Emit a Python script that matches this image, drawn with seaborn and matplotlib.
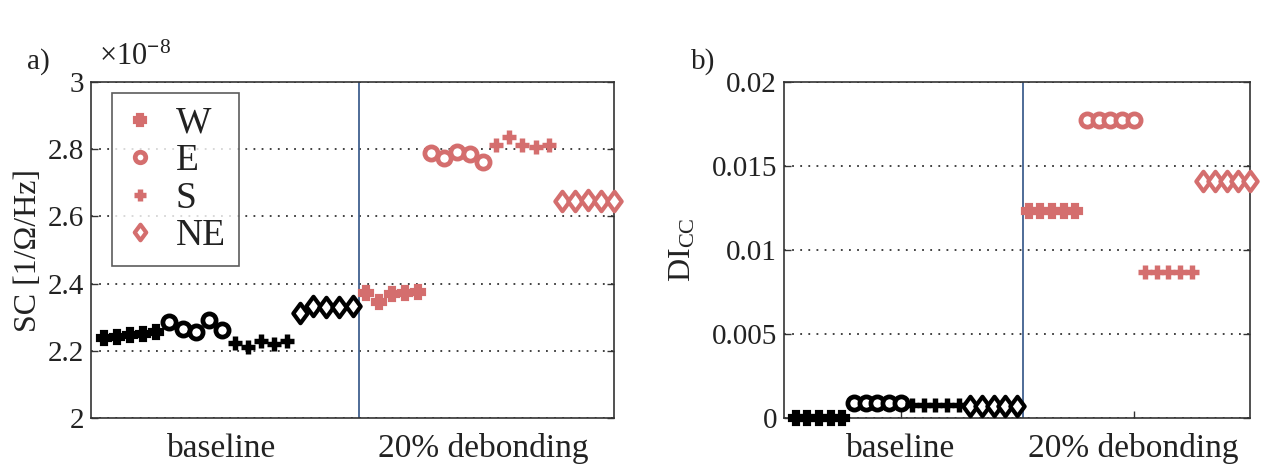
import numpy as np
import pandas as pd
import matplotlib
matplotlib.use("Agg")
import matplotlib.pyplot as plt
from matplotlib.path import Path
from matplotlib.ticker import FuncFormatter
import seaborn as sns

# ---------------- data ----------------
locations = ["W", "E", "S", "NE"]
conditions = ["baseline", "20% debonding"]
xtick_labels = ["baseline", "20% debonding"]
xtick_pos = [10, 30]

# SC values in units of 1e-8 [1/Ohm/Hz]
sc_base_W = [2.237, 2.240, 2.246, 2.250, 2.255]
sc_base_E = [2.287, 2.264, 2.257, 2.292, 2.262]
sc_base_S = [2.222, 2.212, 2.230, 2.220, 2.230]
sc_base_NE = [2.312, 2.333, 2.331, 2.331, 2.333]
sc_deb_W = [2.373, 2.346, 2.369, 2.371, 2.376]
sc_deb_E = [2.788, 2.773, 2.791, 2.786, 2.763]
sc_deb_S = [2.813, 2.837, 2.813, 2.808, 2.813]
sc_deb_NE = [2.646, 2.647, 2.648, 2.646, 2.646]

# DI_CC values
di_base_W = [0.0, 0.0, 0.0, 0.0, 0.0]
di_base_E = [0.0009, 0.0009, 0.0009, 0.0009, 0.0009]
di_base_S = [0.0008, 0.0008, 0.0008, 0.0008, 0.0008]
di_base_NE = [0.0007, 0.0007, 0.0007, 0.0007, 0.0007]
di_deb_W = [0.01231, 0.01231, 0.01231, 0.01231, 0.01231]
di_deb_E = [0.01776, 0.01776, 0.01776, 0.01776, 0.01776]
di_deb_S = [0.00872, 0.00872, 0.00872, 0.00872, 0.00872]
di_deb_NE = [0.01411, 0.01411, 0.01411, 0.01411, 0.01411]

sc_series = {("baseline", "W"): sc_base_W, ("baseline", "E"): sc_base_E,
             ("baseline", "S"): sc_base_S, ("baseline", "NE"): sc_base_NE,
             ("20% debonding", "W"): sc_deb_W, ("20% debonding", "E"): sc_deb_E,
             ("20% debonding", "S"): sc_deb_S, ("20% debonding", "NE"): sc_deb_NE}
di_series = {("baseline", "W"): di_base_W, ("baseline", "E"): di_base_E,
             ("baseline", "S"): di_base_S, ("baseline", "NE"): di_base_NE,
             ("20% debonding", "W"): di_deb_W, ("20% debonding", "E"): di_deb_E,
             ("20% debonding", "S"): di_deb_S, ("20% debonding", "NE"): di_deb_NE}


def build_frame(series):
    rows = []
    idx = 1
    for cond in conditions:
        for loc in locations:
            for v in series[(cond, loc)]:
                rows.append({"x": idx, "y": v, "cond": cond, "loc": loc})
                idx += 1
    return pd.DataFrame(rows)


df_sc = build_frame(sc_series)
df_di = build_frame(di_series)

# ---------------- style ----------------
sns.set_style("white")
plt.rcParams["font.family"] = ["Liberation Serif", "DejaVu Serif"]
plt.rcParams["mathtext.fontset"] = "custom"
plt.rcParams["mathtext.rm"] = "Liberation Serif"
plt.rcParams["mathtext.it"] = "Liberation Serif:italic"
plt.rcParams["mathtext.bf"] = "Liberation Serif:bold"

RED = "#D46E6E"
BLACK = "#000000"
DARK = "#333333"
TXT = "#222222"
cond_colors = {"baseline": BLACK, "20% debonding": RED}

diamond = Path([(0, 1), (0.74, 0), (0, -1), (-0.74, 0), (0, 1)],
               [Path.MOVETO, Path.LINETO, Path.LINETO, Path.LINETO, Path.CLOSEPOLY])

marker_style = {
    "W": dict(marker="P", markersize=9.0, markeredgewidth=3.0, filled=True),
    "E": dict(marker="o", markersize=9.5, markeredgewidth=3.4, filled=False),
    "S": dict(marker="+", markersize=10.5, markeredgewidth=3.9, filled=True),
    "NE": dict(marker=diamond, markersize=14.0, markeredgewidth=3.0, filled=False),
}

fig = plt.figure(figsize=(12.63, 4.67), dpi=100)
ax1 = fig.add_axes([91 / 1263, 49 / 467, 523 / 1263, 336 / 467])
ax2 = fig.add_axes([784 / 1263, 49 / 467, 466 / 1263, 336 / 467])


def draw(ax, df):
    handles = {}
    for cond in conditions:
        c = cond_colors[cond]
        for loc in locations:
            st = marker_style[loc]
            sub = df[(df["cond"] == cond) & (df["loc"] == loc)]
            n_before = len(ax.get_lines())
            sns.lineplot(data=sub, x="x", y="y", ax=ax, color=c, linestyle="",
                         marker=st["marker"], markersize=st["markersize"],
                         markeredgewidth=st["markeredgewidth"],
                         markeredgecolor=c,
                         markerfacecolor=(c if st["filled"] else "white"),
                         errorbar=None, legend=False, clip_on=False, zorder=3)
            handles[(cond, loc)] = ax.get_lines()[n_before]
    ax.axvline(20.5, color="#40608F", lw=1.3, zorder=2)
    ax.set_xlim(0, 40)
    ax.set_xticks(xtick_pos)
    ax.set_xticklabels(xtick_labels)
    ax.set_xlabel("")
    ax.yaxis.grid(True, linestyle=(0, (1, 3.5)), color=DARK, lw=1.3)
    ax.xaxis.grid(False)
    ax.set_axisbelow(True)
    for s in ax.spines.values():
        s.set_color(DARK)
        s.set_linewidth(1.2)
    ax.tick_params(axis="y", direction="in", length=5, width=1, left=True,
                   right=True, labelsize=21, pad=5, color=DARK, labelcolor=TXT)
    return handles


h1 = draw(ax1, df_sc)
ax1.set_ylim(2, 3)
ax1.set_yticks([2, 2.2, 2.4, 2.6, 2.8, 3])
ax1.yaxis.set_major_formatter(FuncFormatter(lambda v, p: f"{v:g}"))
ax1.tick_params(axis="x", length=0, labelsize=24, pad=11, labelcolor=TXT)
ax1.set_ylabel("SC [1/Ω/Hz]", fontsize=23, color=TXT)
ax1.yaxis.set_label_coords(-0.092, 0.5)

leg = ax1.legend(handles=[h1[("20% debonding", l)] for l in locations],
                 labels=locations, loc="upper left",
                 bbox_to_anchor=(21 / 523, 1 - 11 / 336), borderaxespad=0,
                 fontsize=27, frameon=True, fancybox=False, numpoints=1,
                 handlelength=0.8, handletextpad=0.55, labelspacing=0.08,
                 borderpad=0.35, markerscale=0.8)
leg.get_frame().set_edgecolor(DARK)
leg.get_frame().set_linewidth(1.2)
for t in leg.get_texts():
    t.set_color(TXT)

h2 = draw(ax2, df_di)
ax2.set_ylim(0, 0.02)
ax2.set_yticks([0, 0.005, 0.01, 0.015, 0.02])
ax2.yaxis.set_major_formatter(FuncFormatter(lambda v, p: f"{v:g}"))
ax2.tick_params(axis="x", direction="in", length=5, width=1, bottom=True,
                labelsize=24, pad=11, color=DARK, labelcolor=TXT)
ax2.set_ylabel(r"DI$_{\mathrm{CC}}$", fontsize=23, color=TXT)
ax2.yaxis.set_label_coords(-0.186, 0.5)

fig.text(38 / 1263, 1 - 62 / 467, "a)", fontsize=21, ha="center", va="center", color=TXT)
fig.text(99 / 1263, 1 - 57 / 467, r"×10$^{\mathbf{-}8}$", fontsize=22, ha="left", va="center", color=TXT)
fig.text(703 / 1263, 1 - 62 / 467, "b)", fontsize=21, ha="center", va="center", color=TXT)

fig.savefig("out.png", dpi=100, facecolor="white")
